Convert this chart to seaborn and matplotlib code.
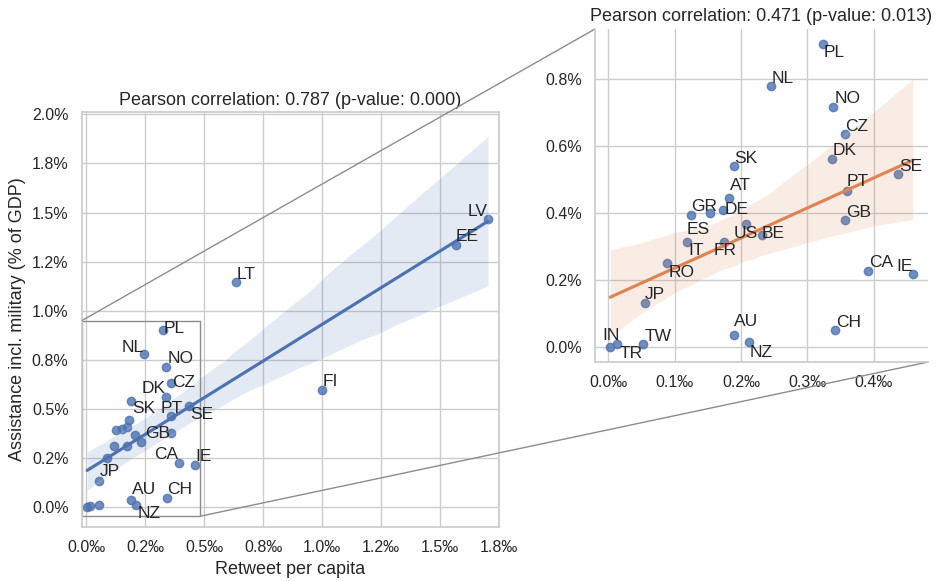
import numpy as np
import matplotlib
matplotlib.use('Agg')
import matplotlib.pyplot as plt
from matplotlib.ticker import FuncFormatter, MultipleLocator
from mpl_toolkits.axes_grid1.inset_locator import mark_inset
import pandas as pd
import seaborn as sns

# values: retweets per capita (permille), assistance (% of GDP)
countries = ['PL', 'NL', 'NO', 'CZ', 'DK', 'SK', 'SE', 'PT', 'AT', 'GR', 'ES', 'DE',
             'GB', 'US', 'BE', 'IT', 'FR', 'RO', 'CA', 'IE', 'JP', 'AU', 'NZ', 'CH',
             'IN', 'TR', 'TW', 'LT', 'LV', 'EE', 'FI']
retweets = [0.324, 0.245, 0.339, 0.357, 0.337, 0.189, 0.437, 0.359, 0.182, 0.125, 0.153, 0.173,
            0.357, 0.208, 0.231, 0.119, 0.174, 0.089, 0.391, 0.459, 0.055, 0.189, 0.212, 0.342,
            0.003, 0.014, 0.052, 0.635, 1.705, 1.567, 1.000]
assistance = [0.905, 0.779, 0.716, 0.635, 0.563, 0.542, 0.517, 0.467, 0.446, 0.395, 0.401, 0.409,
              0.379, 0.368, 0.334, 0.314, 0.314, 0.251, 0.227, 0.217, 0.132, 0.035, 0.0135, 0.0495,
              0.0, 0.008, 0.010, 1.146, 1.467, 1.336, 0.598]
outliers = ['LT', 'LV', 'EE', 'FI']

main_title = 'Pearson correlation: 0.787 (p-value: 0.000)'
zoom_title = 'Pearson correlation: 0.471 (p-value: 0.013)'

df = pd.DataFrame({'country': countries, 'retweets': retweets, 'assistance': assistance})
df_zoom = df[~df['country'].isin(outliers)]

# label offsets in pixels (text left / baseline relative to the point)
main_offsets = {'PL': (0.6, -3.3), 'NL': (-22.6, 2.6), 'NO': (1, 3.4), 'CZ': (1.7, -4.6),
                'DK': (-24, 3.4), 'SK': (1.7, -12.3), 'PT': (-10.7, 2.4), 'SE': (0.7, -13.3),
                'GB': (-25, -5), 'CA': (-24.7, 3.3), 'IE': (1, 3.3), 'JP': (0.7, 5),
                'AU': (0.7, 6.7), 'CH': (0.6, 3.7), 'NZ': (1, -13.3), 'LT': (1, 3),
                'FI': (0.4, 4), 'EE': (0, 4.3), 'LV': (-20, 3.6)}
zoom_offsets = {'PL': (0, -12.7), 'NL': (1, 3.3), 'NO': (1, 4), 'CZ': (0, 3.7), 'DK': (0.5, 3.7),
                'SK': (1, 3), 'SE': (1, 3.3), 'PT': (0.5, 4.3), 'AT': (1, 8), 'GR': (0, 4),
                'DE': (2, -4), 'ES': (-23, -21), 'US': (-12.5, -14), 'BE': (0, -2.4),
                'IT': (1, -13), 'FR': (-10, -13), 'RO': (1, -13.7), 'GB': (0.5, 3.3),
                'CA': (1, 3.7), 'IE': (-16.6, 3.3), 'CH': (0.5, 3.3), 'JP': (0.5, 3.8),
                'AU': (0.5, 9.4), 'NZ': (0.3, -14.7), 'IN': (-7.7, 6.4), 'TR': (2.3, -14),
                'TW': (1.6, 3)}

sns.set_theme(style='whitegrid')
plt.rcParams['font.family'] = ['Liberation Sans', 'DejaVu Sans']

fig = plt.figure(figsize=(9.36, 5.81), dpi=100)
ax = fig.add_axes([0.0873, 0.0929, 0.4455, 0.7143])
axins = fig.add_axes([0.6357, 0.3769, 0.3558, 0.5732])

# main plot
sns.regplot(data=df, x='retweets', y='assistance', ax=ax, color='C0', seed=7)
ax.set_xlim(-0.02, 1.75)
ax.set_ylim(-0.1, 2.012)
ax.xaxis.set_major_locator(MultipleLocator(0.25))
ax.yaxis.set_major_locator(MultipleLocator(0.25))
ax.xaxis.set_major_formatter(FuncFormatter(lambda v, p: f'{v:.1f}‰'))
ax.yaxis.set_major_formatter(FuncFormatter(lambda v, p: f'{v:.1f}%'))
ax.tick_params(labelsize=11.5)
ax.set_xlabel('Retweet per capita', fontsize=13)
ax.set_ylabel('Assistance incl. military (% of GDP)', fontsize=13)
ax.set_title(main_title, fontsize=13, pad=5)

for _, row in df.iterrows():
    if row['country'] in main_offsets:
        ax.annotate(row['country'], (row['retweets'], row['assistance']),
                    xytext=main_offsets[row['country']], textcoords='offset pixels',
                    ha='left', va='baseline', fontsize=12.5, color='.15')

# zoomed plot
sns.regplot(data=df_zoom, x='retweets', y='assistance', ax=axins, color='C1',
            scatter_kws={'color': 'C0'}, seed=0)
sns.despine(ax=axins)
axins.xaxis.set_major_locator(MultipleLocator(0.1))
axins.yaxis.set_major_locator(MultipleLocator(0.2))
axins.xaxis.set_major_formatter(FuncFormatter(lambda v, p: f'{v:.1f}‰'))
axins.yaxis.set_major_formatter(FuncFormatter(lambda v, p: f'{v:.1f}%'))
axins.tick_params(labelsize=11.5)
axins.set_xlabel('')
axins.set_ylabel('')
axins.set_title(zoom_title, fontsize=13, pad=5.5)

for _, row in df_zoom.iterrows():
    axins.annotate(row['country'], (row['retweets'], row['assistance']),
                   xytext=zoom_offsets[row['country']], textcoords='offset pixels',
                   ha='left', va='baseline', fontsize=12.5, color='.15')

mark_inset(ax, axins, loc1=2, loc2=4, fc='none', ec='0.55', lw=1)

fig.savefig('out.png', dpi=100)
